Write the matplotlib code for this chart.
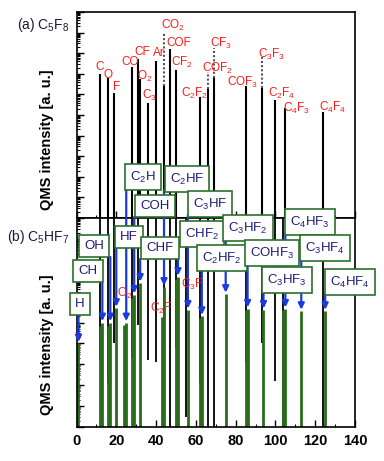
import numpy as np
import matplotlib.pyplot as plt
from matplotlib import transforms, ticker

plt.rcParams['font.family'] = ['Liberation Sans', 'DejaVu Sans']
plt.rcParams['mathtext.fontset'] = 'custom'
plt.rcParams['mathtext.rm'] = 'Liberation Sans'
plt.rcParams['mathtext.it'] = 'Liberation Sans:italic'
plt.rcParams['mathtext.bf'] = 'Liberation Sans:bold'
plt.rcParams['mathtext.default'] = 'regular'

# ---- (a) C5F8 spectrum ----
mass_a = [12, 16, 19, 28, 31, 32, 36, 40, 44, 47, 50, 62, 66, 69, 85, 93, 100, 105, 124]
int_a = [1.0e7, 6.3e6, 1.2e6, 2.1e7, 5.2e7, 5.6e6, 3.8e5, 4.2e7, 2.6e6, 1.6e8, 1.5e7,
         7.4e5, 1.8e6, 6.3e6, 2.6e6, 2.0e6, 5.4e5, 2.2e5, 1.4e5]
names_a = ["C", "O", "F", "CO", "CF", "O$_2$", "C$_3$", "Ar", "CO$_2$", "COF", "CF$_2$",
           "C$_2$F$_2$", "COF$_2$", "CF$_3$", "COF$_3$", "C$_3$F$_3$", "C$_2$F$_4$",
           "C$_4$F$_3$", "C$_4$F$_4$"]
# dotted upper parts of some peaks
mass_a_dot = [44, 66, 69, 93]
int_a_dot = [9.5e8, 1.2e7, 1.8e8, 6.6e7]

# black traces running through panel (b): lower end of each
mass_b_blk = [12, 16, 19, 28, 31, 36, 40, 44, 47, 50, 55, 62, 66, 69, 85, 93, 100, 104, 124]
low_b_blk = [1.6e3, 1.3e2, 1e4, 2e3, 8e4, 1.6e3, 1.3e3, 1e4, 1, 6.3e3, 3, 1.3e2, 1, 1,
             1.3e3, 1e4, 1.6e2, 1, 1]

# ---- (b) C5HF7 spectrum ----
mass_b = [1, 12, 13, 16, 17, 20, 24, 25, 28, 29, 32, 43, 44, 50, 51, 56, 62, 63, 75,
          85, 86, 94, 104, 105, 113, 125]
int_b = [1.0e4, 7e4, 1.0e5, 7e4, 1.0e5, 4.9e5, 8e4, 1.0e5, 1.5e6, 2.1e6, 7.8e6, 1.9e5,
         5.0e6, 1.2e7, 1.5e7, 4.0e5, 1.6e5, 2.0e5, 2.3e6, 4e5, 4.5e5, 4.0e5, 4e5, 4.5e5,
         3.5e5, 3.5e5]

arrow_names = ["H", "CH", "OH", "HF", "C$_2$H", "COH", "CHF", "C$_2$HF", "CHF$_2$",
               "C$_3$HF", "C$_2$HF$_2$", "C$_3$HF$_2$", "COHF$_3$", "C$_3$HF$_3$",
               "C$_4$HF$_3$", "C$_3$HF$_4$", "C$_4$HF$_4$"]
arrow_mass = [1, 13, 17, 20, 25, 29, 32, 44, 51, 56, 63, 75, 86, 94, 105, 113, 125]

red_b_names = ["O$_2$", "C$_2$F", "C$_3$F"]

# label layout (pixel positions in the 384x461 picture)
W, H = 384, 461
red_a_pos = [(100, 67), (108, 75), (117, 87), (130, 62), (142, 52), (145, 76), (149, 95),
             (159, 53), (173, 25), (179, 43), (182, 62), (195, 93), (218, 68), (221, 43),
             (243, 82), (272, 54), (282, 93), (297, 108), (333, 107)]
red_b_pos = [(125, 293), (161, 308), (192, 284)]
box_pos = [(80, 304), (88, 271), (94, 246), (129, 237), (143, 177), (155, 206), (160, 248),
           (187, 179), (202, 234), (210, 204), (222, 258), (248, 228), (272, 253),
           (287, 280), (310, 222), (325, 248), (350, 282)]
box_bottom = [313, 283, 257, 248, 188, 217, 259, 190, 245, 215, 270, 240, 263, 290, 233,
              259, 293]

def fx(px): return px / W
def fy(py): return 1 - py / H

fig = plt.figure(figsize=(3.84, 4.61), dpi=100)
ax1 = fig.add_axes([fx(76.5), fy(218), (355 - 76.5) / W, (218 - 12) / H])
ax2 = fig.add_axes([fx(76.5), fy(427), (355 - 76.5) / W, (427 - 218) / H])

green = '#2a6b1c'
blue = '#1a3ae0'
navy = '#1c1c78'
red = '#ff1a1a'

for ax in (ax1, ax2):
    ax.set_yscale('log')
    ax.set_ylim(1, 1e10)
    ax.set_xlim(0, 140)
    ax.set_xticks(np.arange(0, 141, 20))
    ax.set_xticks(np.arange(0, 141, 10), minor=True)
    ax.set_yticks([10.0 ** k for k in range(11)])
    ax.yaxis.set_minor_locator(ticker.LogLocator(base=10, subs=np.arange(2, 10), numticks=20))
    ax.yaxis.set_minor_formatter(ticker.NullFormatter())
    ax.tick_params(axis='both', which='both', direction='in', labelleft=False)
    ax.tick_params(which='major', length=5, width=1)
    ax.tick_params(which='minor', length=2.5, width=0.8)
    for s in ax.spines.values():
        s.set_linewidth(1.2)

ax1.tick_params(labelbottom=False)

# panel (a)
ax1.vlines(mass_a, 1, int_a, color='black', lw=1.5)
dot_low = [int_a[mass_a.index(m)] for m in mass_a_dot]
ax1.vlines(mass_a_dot, dot_low, int_a_dot, color='#555555', lw=1.5, linestyles=(0, (1, 1)))

# panel (b)
ax2.vlines(mass_b_blk, low_b_blk, 1e11, color='black', lw=1.3)
ax2.vlines(mass_b, 1, int_b, color=green, lw=2.0)

for (px, py), name in zip(red_a_pos, names_a):
    fig.text(fx(px), fy(py), name, color=red, fontsize=8.5, ha='center', va='center')
for (px, py), name in zip(red_b_pos, red_b_names):
    fig.text(fx(px), fy(py), name, color=red, fontsize=8.5, ha='center', va='center')

blend = transforms.blended_transform_factory(ax2.transData, fig.transFigure)
peak_b = dict(zip(mass_b, int_b))
for name, m, (px, py), pb in zip(arrow_names, arrow_mass, box_pos, box_bottom):
    ax2.annotate("", xy=(m, peak_b[m]), xycoords='data', xytext=(m, fy(pb)),
                 textcoords=blend, annotation_clip=False,
                 arrowprops=dict(arrowstyle='-|>', color=blue, lw=1.6,
                                 mutation_scale=9, shrinkA=0, shrinkB=1))
    fig.text(fx(px), fy(py), name, color=navy, fontsize=9.5, ha='center', va='center',
             bbox=dict(boxstyle='square,pad=0.38', fc='white', ec='#2d6e2d', lw=1.2))

fig.text(fx(17), fy(25), "(a) C$_5$F$_8$", fontsize=10, color='#1a1a3a',
         ha='left', va='center')
fig.text(fx(7), fy(237), "(b) C$_5$HF$_7$", fontsize=10, color='#1a1a3a',
         ha='left', va='center')
fig.text(fx(47), fy(140), "QMS intensity [a. u.]", fontsize=10.5, fontweight='bold',
         rotation=90, ha='center', va='center')
fig.text(fx(47), fy(345), "QMS intensity [a. u.]", fontsize=10.5, fontweight='bold',
         rotation=90, ha='center', va='center')

for lab in ax2.get_xticklabels():
    lab.set_fontweight('bold')
    lab.set_fontsize(10.5)
ax2.tick_params(axis='x', pad=5)

fig.savefig('out.png', dpi=100)
